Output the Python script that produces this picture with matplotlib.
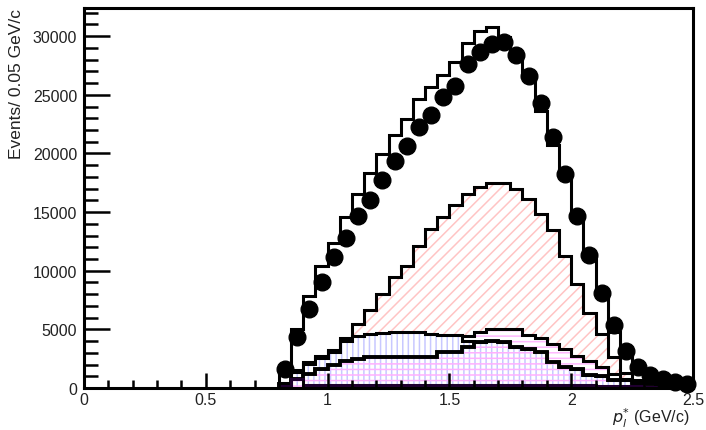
import numpy as np
import matplotlib.pyplot as plt
from matplotlib.ticker import MultipleLocator

plt.rcParams['font.family'] = ['Liberation Sans', 'DejaVu Sans']
plt.rcParams['hatch.linewidth'] = 1.1

# 34 bins of 0.05 GeV/c from 0.80 to 2.50
edges = np.round(np.arange(0.80, 2.5001, 0.05), 2)
centers = edges[:-1] + 0.025

total_mc = [1800, 5000, 7850, 10400, 12400, 14600, 16500, 18350, 19950, 21600,
            22950, 24600, 25700, 26700, 27800, 29400, 30450, 30750, 29900, 28600,
            26600, 23600, 20700, 18000, 14500, 11300, 8000, 4800, 2800, 1500,
            950, 650, 450, 300]
data = [1620, 4350, 6740, 9040, 11170, 12800, 14670, 16040, 17740, 19360,
        20640, 22260, 23290, 24820, 25790, 27640, 28660, 29340, 29510, 28360,
        26640, 24300, 21410, 18250, 14670, 11350, 8100, 5370, 3180, 1790,
        1110, 770, 510, 300]
comp_pink = [400, 1500, 2200, 2700, 3250, 4300, 5460, 6680, 8020, 9470,
             10430, 12140, 13560, 14590, 15610, 16550, 17150, 17490, 17490, 16950,
             16120, 14840, 13500, 11260, 8870, 6400, 4600, 2640, 1300, 700,
             400, 250, 150, 80]
comp_white = [200, 800, 1300, 1700, 2100, 2500, 2900, 3200, 3500, 3700,
              3900, 4000, 4100, 4200, 4300, 4400, 4780, 5030, 5030, 5030,
              4500, 4260, 3750, 3330, 2760, 2330, 1790, 1190, 770, 500,
              300, 150, 80, 30]
comp_blue = [300, 1340, 2050, 2560, 3100, 4000, 4450, 4600, 4700, 4780,
             4780, 4780, 4600, 4520, 4520, 4050, 3920, 4050, 3900, 3500,
             3300, 3100, 2200, 1800, 1600, 1150, 1050, 700, 650, 400,
             300, 150, 80, 30]
comp_thick = [300, 800, 1200, 1600, 2000, 2300, 2500, 2640, 2640, 2640,
              2640, 2640, 2640, 3070, 3070, 3500, 3920, 4050, 3900, 3500,
              3300, 3100, 2200, 1800, 1600, 1150, 1050, 700, 650, 400,
              300, 150, 80, 30]
comp_small = [150, 800, 250, 250, 250, 250, 250, 250, 250, 250,
              250, 250, 250, 250, 250, 250, 250, 250, 250, 250,
              250, 250, 250, 250, 250, 250, 200, 200, 150, 150,
              100, 80, 50, 30]

fig = plt.figure(figsize=(7.06, 4.31), dpi=100)
ax = fig.add_axes([84 / 706, 42 / 431, 609 / 706, 380 / 431])

ax.stairs(total_mc, edges, color='black', lw=2.2, baseline=0, zorder=1)

ax.stairs(comp_pink, edges, fill=True, facecolor='white', edgecolor='#ffc4c4',
          hatch='///', lw=0, zorder=1.1)
ax.stairs(comp_pink, edges, color='black', lw=2.2, baseline=0, zorder=1.15)

ax.stairs(comp_white, edges, fill=True, facecolor='white', edgecolor='#ffb8ff',
          hatch='---', lw=0, zorder=1.2)
ax.stairs(comp_white, edges, color='black', lw=2.2, baseline=0, zorder=1.25)

ax.stairs(comp_blue, edges, fill=True, facecolor='white', edgecolor='#c8c8ff',
          hatch='|||', lw=0, zorder=1.3)
ax.stairs(comp_blue, edges, color='black', lw=2.2, baseline=0, zorder=1.35)

ax.stairs(comp_thick, edges, fill=True, facecolor='none', edgecolor='#ffb0ff',
          hatch='---', lw=0, zorder=1.4)
ax.stairs(comp_thick, edges, color='black', lw=2.8, baseline=0, zorder=1.45)

ax.stairs(comp_small, edges, color='#200030', lw=2.2, baseline=0, zorder=1.5)

ax.plot(centers, data, 'o', color='black', ms=12, zorder=5, clip_on=False)

ax.set_xlim(0, 2.5)
ax.set_ylim(0, 32400)

ax.xaxis.set_minor_locator(MultipleLocator(0.1))
ax.yaxis.set_minor_locator(MultipleLocator(1000))
ax.set_xticks([0, 0.5, 1, 1.5, 2, 2.5], ['0', '0.5', '1', '1.5', '2', '2.5'])
ax.set_yticks([0, 5000, 10000, 15000, 20000, 25000, 30000],
              ['0', '5000', '10000', '15000', '20000', '25000', '30000'])
ax.tick_params(axis='x', which='major', direction='in', length=11, width=1.8,
               labelsize=11.5, pad=3, labelcolor='#222222')
ax.tick_params(axis='x', which='minor', direction='in', length=6, width=1.8)
ax.tick_params(axis='y', which='major', direction='in', length=19, width=1.8,
               labelsize=11.5, pad=5, labelcolor='#222222')
ax.tick_params(axis='y', which='minor', direction='in', length=10, width=1.8)

for s in ax.spines.values():
    s.set_linewidth(2.2)

fig.text(17 / 706, 1 - 9 / 431, 'Events/ 0.05 GeV/c', rotation=90,
         ha='center', va='top', fontsize=12.5, color='#222222')
fig.text(690 / 706, 0.5 / 431, r'$p^{*}_{l}$ (GeV/c)', ha='right',
         va='bottom', fontsize=11.5, color='#222222')

fig.savefig('out.png', dpi=100)
